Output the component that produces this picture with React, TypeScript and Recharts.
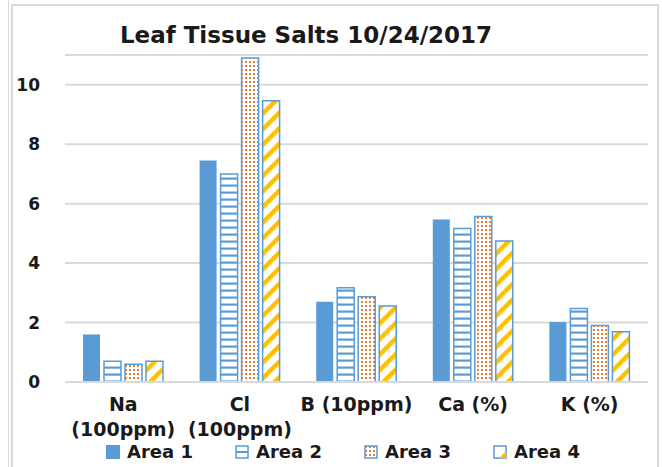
import { Bar, BarChart, CartesianGrid, Legend, XAxis, YAxis } from 'recharts';

const categories = ['Na\n(100ppm)', 'Cl\n(100ppm)', 'B (10ppm)', 'Ca (%)', 'K (%)'];
const area1 = [1.6, 7.45, 2.7, 5.47, 2.02];
const area2 = [0.7, 7.0, 3.17, 5.16, 2.47];
const area3 = [0.6, 10.9, 2.87, 5.57, 1.9];
const area4 = [0.7, 9.46, 2.56, 4.74, 1.69];
const yTicks = [0, 2, 4, 6, 8, 10];
const seriesNames = ['Area 1', 'Area 2', 'Area 3', 'Area 4'];

const data = categories.map((name, i) => ({
	name,
	a1: area1[i],
	a2: area2[i],
	a3: area3[i],
	a4: area4[i]
}));

const FONT = '"DejaVu Sans", Verdana, sans-serif';
const BLUE = '#5B9BD5';
const ORANGE = '#ED7D31';
const YELLOW = '#FFC000';

const XTick = ({ x, y, payload }: any) => {
	const lines = String(payload.value).split('\n');
	return (
		<text x={x} y={y} textAnchor="middle" fontSize={19} fontWeight={700} fill="#1a1a1a" fontFamily={FONT}>
			{lines.map((l, i) => (
				<tspan key={i} x={x} dy={i === 0 ? 27 : 25}>
					{l}
				</tspan>
			))}
		</text>
	);
};

// little legend swatches, roughly like excel's
const Swatch = ({ idx }: { idx: number }) => {
	if (idx === 0) return <svg width={14} height={14}><rect x={0} y={0} width={14} height={14} fill={BLUE} /></svg>;
	if (idx === 1)
		return (
			<svg width={14} height={14}>
				<rect x={1} y={1} width={12} height={12} fill="#fff" stroke={BLUE} strokeWidth={1.5} />
				<line x1={1} x2={13} y1={7} y2={7} stroke={BLUE} strokeWidth={2} />
			</svg>
		);
	if (idx === 2)
		return (
			<svg width={14} height={14}>
				<rect x={1} y={1} width={12} height={12} fill="url(#dots)" stroke={BLUE} strokeWidth={1.5} />
			</svg>
		);
	return (
		<svg width={14} height={14}>
			<rect x={1} y={1} width={12} height={12} fill="#fff" stroke={BLUE} strokeWidth={1.5} />
			<polygon points="13,6 13,13 6,13" fill={YELLOW} />
		</svg>
	);
};

const LegendContent = () => (
	<div style={{ display: 'flex', paddingLeft: 106, marginTop: 7, fontFamily: FONT, fontWeight: 700, fontSize: 18, color: '#1a1a1a' }}>
		{seriesNames.map((n, i) => (
			<div key={n} style={{ width: 129, display: 'flex', alignItems: 'center', gap: 7 }}>
				<Swatch idx={i} />
				<span>{n}</span>
			</div>
		))}
	</div>
);

export default function App() {
	return (
		<div style={{ position: 'absolute', left: 0, top: 0, width: 662, height: 467, overflow: 'hidden', background: '#fff' }}>
			<div style={{ position: 'absolute', left: 8, top: 0, width: 1, height: 467, background: '#d9d9d9' }} />
			<div
				style={{
					position: 'absolute',
					left: 11,
					top: 4,
					width: 644,
					height: 480,
					borderTop: '2px solid #d9d9d9',
					borderLeft: '2px solid #d9d9d9',
					borderRight: '2px solid #d9d9d9'
				}}
			/>
			<div
				style={{
					position: 'absolute',
					left: 0,
					top: 22,
					width: 612,
					textAlign: 'center',
					fontFamily: FONT,
					fontWeight: 700,
					fontSize: 23,
					color: '#1a1a1a'
				}}
			>
				Leaf Tissue Salts 10/24/2017
			</div>
			<div style={{ position: 'absolute', left: 0, top: 0 }}>
				<BarChart width={662} height={467} data={data} margin={{ top: 55, right: 14, bottom: 0, left: 0 }} barSize={17} barGap={4}>
					<defs>
						<pattern id="hstripes" patternUnits="userSpaceOnUse" width={8} height={7}>
							<rect x={0} y={0} width={8} height={7} fill="#fff" />
							<rect x={0} y={2.5} width={8} height={2.2} fill={BLUE} />
						</pattern>
						<pattern id="dots" patternUnits="userSpaceOnUse" width={4} height={4}>
							<rect x={0} y={0} width={4} height={4} fill="#fff" />
							<rect x={1} y={1} width={2} height={2} fill={ORANGE} />
						</pattern>
						<pattern id="diag" patternUnits="userSpaceOnUse" width={11} height={11} patternTransform="rotate(45)">
							<rect x={0} y={0} width={11} height={11} fill="#fff" />
							<rect x={0} y={0} width={4.5} height={11} fill={YELLOW} />
						</pattern>
					</defs>
					<CartesianGrid vertical={false} stroke="#d9d9d9" strokeWidth={2} />
					<XAxis
						dataKey="name"
						interval={0}
						tickLine={false}
						tickSize={0}
						axisLine={{ stroke: '#d9d9d9', strokeWidth: 2 }}
						tick={<XTick />}
						height={52}
					/>
					<YAxis
						domain={[0, 11]}
						ticks={yTicks}
						width={65}
						axisLine={false}
						tickLine={false}
						tickSize={0}
						tickMargin={25}
						tick={{ fontSize: 17, fontWeight: 700, fill: '#1a1a1a', fontFamily: FONT }}
					/>
					<Legend verticalAlign="bottom" height={33} content={<LegendContent />} wrapperStyle={{ left: 0, width: 662 }} />
					<Bar dataKey="a1" name="Area 1" fill={BLUE} isAnimationActive={false} />
					<Bar dataKey="a2" name="Area 2" fill="url(#hstripes)" stroke={BLUE} strokeWidth={1.5} isAnimationActive={false} />
					<Bar dataKey="a3" name="Area 3" fill="url(#dots)" stroke={BLUE} strokeWidth={1.5} isAnimationActive={false} />
					<Bar dataKey="a4" name="Area 4" fill="url(#diag)" stroke={BLUE} strokeWidth={1.5} isAnimationActive={false} />
				</BarChart>
			</div>
		</div>
	);
}
